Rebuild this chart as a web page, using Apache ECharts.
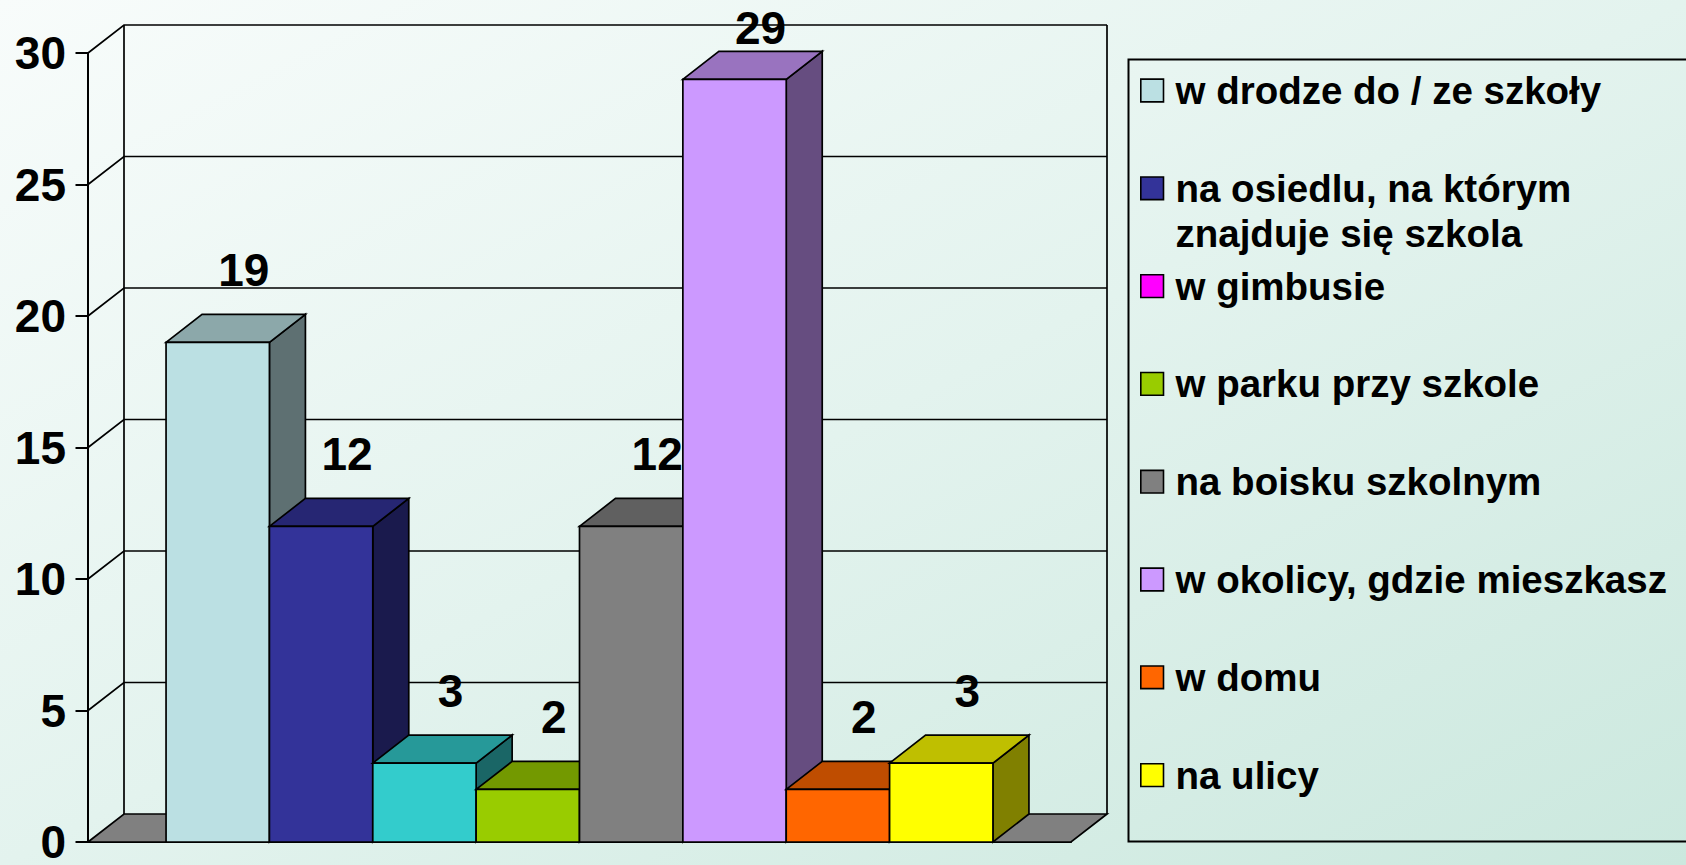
<!DOCTYPE html>
<html>
<head>
<meta charset="utf-8">
<script src="https://cdn.jsdelivr.net/npm/echarts@6/dist/echarts.min.js"></script>
<style>
  html, body { margin: 0; padding: 0; }
  #chart {
    width: 1686px;
    height: 865px;
    background: linear-gradient(to bottom right, #f8fcfb 0%, #e3f3ee 50%, #cbe8de 100%);
  }
</style>
</head>
<body>
<div id="chart"></div>
<script>
const categories = [''];
const seriesNames = [
  'w drodze do / ze szkoły',
  'na osiedlu, na którym znajduje się szkola',
  'w gimbusie',
  'w parku przy szkole',
  'na boisku szkolnym',
  'w okolicy, gdzie mieszkasz',
  'w domu',
  'na ulicy'
];
const seriesValues = [19, 12, 3, 2, 12, 29, 2, 3];
const yTicks = [0, 5, 10, 15, 20, 25, 30];

// bar face colours (the third bar is drawn cyan, its legend key is magenta, as in the original)
const faceColors = ['#bbe0e3', '#333399', '#33cccc', '#99cc00', '#808080', '#cc99ff', '#ff6600', '#ffff00'];
const legendColors = ['#bbe0e3', '#333399', '#ff00ff', '#99cc00', '#808080', '#cc99ff', '#ff6600', '#ffff00'];

const FONT = '"Liberation Sans", Arial, sans-serif';
const DX = 36;   // depth offset of the 3d box
const DY = -28;
const BAR_FILL = 0.8412;
const EDGE = { stroke: '#000', lineWidth: 1.7 };

const shade = (hex, k) => {
  const n = parseInt(hex.slice(1), 16);
  const c = [(n >> 16) & 255, (n >> 8) & 255, n & 255].map(v => Math.round(v * k));
  return `rgb(${c.join(',')})`;
};

function renderWalls(params, api) {
  const cs = params.coordSys;
  const v = api.value(1);
  const y = api.coord([0, v])[1];
  const x0 = cs.x;
  const x1 = cs.x + cs.width;
  const children = [];
  if (v === 0) {
    const yTop = api.coord([0, yTicks[yTicks.length - 1]])[1];
    children.push({
      type: 'polygon',
      shape: { points: [[x0, y], [x1, y], [x1 + DX, y + DY], [x0 + DX, y + DY]] },
      style: { fill: '#808080', ...EDGE }
    });
    children.push({ type: 'line', shape: { x1: x0 + DX, y1: y + DY, x2: x0 + DX, y2: yTop + DY }, style: EDGE });
    children.push({ type: 'line', shape: { x1: x1 + DX, y1: y + DY, x2: x1 + DX, y2: yTop + DY }, style: EDGE });
  } else {
    children.push({
      type: 'polyline',
      shape: { points: [[x0, y], [x0 + DX, y + DY], [x1 + DX, y + DY]] },
      style: { fill: null, ...EDGE }
    });
  }
  return { type: 'group', children };
}

function makeBarRenderer(i) {
  const n = seriesValues.length;
  return (params, api) => {
    const value = api.value(1);
    const [cx, y0] = api.coord([0, 0]);
    const yT = api.coord([0, value])[1];
    const w = api.size([1, 0])[0] * BAR_FILL / n;
    const left = cx - w * n / 2 + i * w;
    const right = left + w;
    const face = faceColors[i];
    return {
      type: 'group',
      children: [
        {
          type: 'polygon',
          shape: { points: [[right, yT], [right + DX, yT + DY], [right + DX, y0 + DY], [right, y0]] },
          style: { fill: shade(face, 0.5), ...EDGE }
        },
        {
          type: 'polygon',
          shape: { points: [[left, yT], [right, yT], [right + DX, yT + DY], [left + DX, yT + DY]] },
          style: { fill: shade(face, 0.75), ...EDGE }
        },
        {
          type: 'rect',
          shape: { x: left, y: yT, width: w, height: y0 - yT },
          style: { fill: face, ...EDGE }
        },
        {
          type: 'text',
          z2: 100,
          style: {
            text: String(value),
            x: left + w / 2 + DX / 2 + 8,
            y: Math.max(yT + DY - 44, params.coordSys.y - 25),
            align: 'center',
            verticalAlign: 'middle',
            font: `bold 46px ${FONT}`,
            fill: '#000'
          }
        }
      ]
    };
  };
}

// long names wrap onto two lines; a leading blank line keeps the first line level with the key
const wrapName = (name) => {
  if (name.length <= 30) return name;
  const cut = name.lastIndexOf(' ', 22);
  return '\n' + name.slice(0, cut) + '\n' + name.slice(cut + 1);
};

const legendFirstCenter = 90.5;
const legendStep = 97.8;

const legends = seriesNames.map((name, i) => {
  const wrapped = wrapName(name).includes('\n');
  return {
    data: [name],
    orient: 'vertical',
    left: 1140,
    top: legendFirstCenter + i * legendStep - (wrapped ? 67.5 : 22.5),
    padding: 0,
    icon: 'rect',
    itemWidth: 22.7,
    itemHeight: 22.7,
    selectedMode: false,
    formatter: wrapName,
    itemStyle: { borderColor: '#000', borderWidth: 1.6 },
    textStyle: {
      fontFamily: FONT,
      fontSize: 38.5,
      fontWeight: 'bold',
      color: '#000',
      lineHeight: 45,
      padding: [0, 0, 0, 7]
    }
  };
});

const chart = echarts.init(document.getElementById('chart'), null, { renderer: 'svg' });

chart.setOption({
  backgroundColor: 'transparent',
  animation: false,
  grid: { left: 88, top: 53, right: 615, bottom: 17 },
  legend: legends,
  graphic: [{
    type: 'rect',
    shape: { x: 1128.5, y: 59.5, width: 1553, height: 782 },
    style: { fill: 'none', stroke: '#000', lineWidth: 2 }
  }],
  xAxis: {
    type: 'category',
    data: categories,
    axisLine: { lineStyle: { color: '#000', width: 2 } },
    axisTick: { length: 13, lineStyle: { color: '#000', width: 2 } },
    axisLabel: { show: false },
    splitLine: { show: false }
  },
  yAxis: {
    type: 'value',
    min: 0,
    max: 30,
    interval: 5,
    axisLine: { show: true, lineStyle: { color: '#000', width: 2 } },
    axisTick: { show: true, length: 12.5, lineStyle: { color: '#000', width: 2 } },
    axisLabel: { color: '#000', fontSize: 46, fontWeight: 'bold', fontFamily: FONT, margin: 22 },
    splitLine: { show: false }
  },
  series: [
    {
      type: 'custom',
      name: 'walls',
      silent: true,
      renderItem: renderWalls,
      encode: { x: 0, y: 1 },
      data: yTicks.map(t => [0, t])
    },
    ...seriesNames.map((name, i) => ({
      type: 'custom',
      name,
      renderItem: makeBarRenderer(i),
      encode: { x: 0, y: 1 },
      itemStyle: { color: legendColors[i] },
      data: [[0, seriesValues[i]]]
    }))
  ]
});
</script>
</body>
</html>
